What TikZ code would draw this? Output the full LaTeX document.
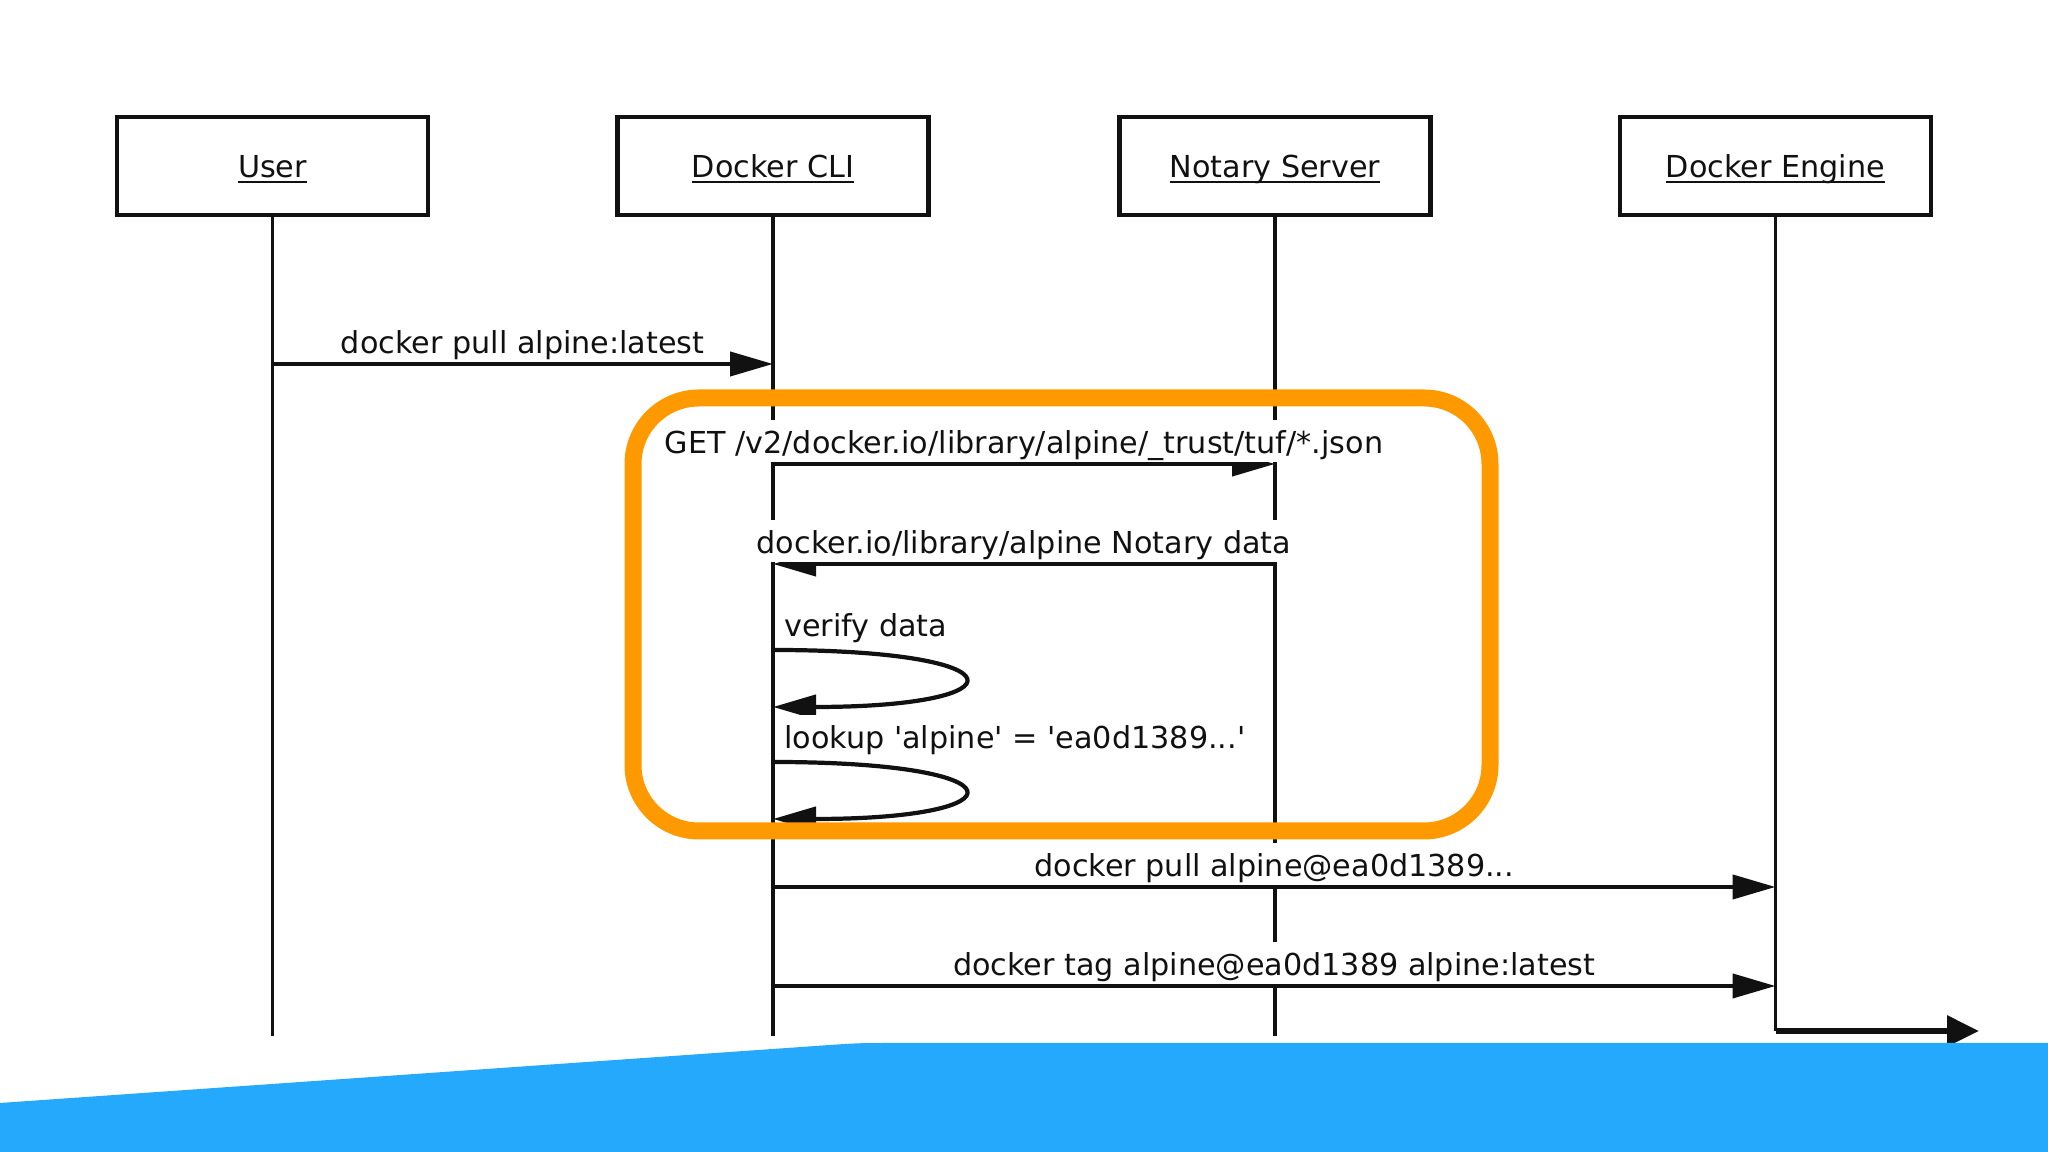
\documentclass[tikz,border=0pt]{standalone}
\usepackage{fontspec}
\setmainfont{DejaVu Sans}
\usetikzlibrary{arrows.meta}
\definecolor{Ink}{HTML}{111111}
\definecolor{Frame}{HTML}{FF9900}
\definecolor{Band}{HTML}{25A9FC}

\begin{document}
\begin{tikzpicture}[
    actor/.style={rectangle, draw=Ink, line width=1.3pt, fill=white, minimum width=3.11cm, minimum height=0.98cm, font=\fontsize{8.6}{10}\selectfont, text=Ink, text height=0.82em, text depth=0.18em},
    life/.style={line width=1pt, draw=Ink},
    msg/.style={-{Triangle[length=4.3mm, width=2.4mm]}, line width=1.2pt, draw=Ink},
    outarrow/.style={-{Triangle[length=3.2mm, width=3mm]}, line width=1.7pt, draw=Ink},
    lbl/.style={font=\fontsize{8.6}{10}\selectfont, text=Ink, fill=white, inner sep=2pt, text height=0.76em, text depth=0.03em}
]
    \useasboundingbox (0,0) rectangle (20.48,11.52);

    % Participants
    \node[actor] (user) at (2.725,9.86) {\underbar{User}};
    \node[actor] (cli) at (7.73,9.86) {\underbar{Docker CLI}};
    \node[actor] (notary) at (12.75,9.86) {\underbar{Notary Server}};
    \node[actor] (engine) at (17.755,9.86) {\underbar{Docker Engine}};

    % Message rows
    \coordinate (r1) at (0,7.88);
    \coordinate (r2) at (0,6.88);
    \coordinate (r3) at (0,5.88);
    \coordinate (r4a) at (0,5.02);
    \coordinate (r4b) at (0,4.45);
    \coordinate (r5a) at (0,3.90);
    \coordinate (r5b) at (0,3.33);
    \coordinate (r6) at (0,2.65);
    \coordinate (r7) at (0,1.66);
    \coordinate (bottom) at (0,1.16);
    \coordinate (outend) at (19.79,1.21);

    % Lifelines
    \draw[life] (user.south) -- (user |- bottom);
    \draw[life] (cli.south) -- (cli |- bottom);
    \draw[life] (notary.south) -- (notary |- bottom);
    \draw[life] (engine.south) -- (engine |- outend);

    % Messages
    \draw[msg] (user |- r1) -- node[lbl, above=0pt]{docker pull alpine:latest} (cli |- r1);
    \draw[msg] (cli |- r2) -- node[lbl, above=0pt]{GET /v2/docker.io/library/alpine/\_trust/tuf/*.json} (notary |- r2);
    \draw[msg] (notary |- r3) -- node[lbl, above=0pt]{docker.io/library/alpine Notary data} (cli |- r3);

    % Self calls on the CLI
    \draw[msg] (cli |- r4a) node[lbl, anchor=south west, xshift=0.02cm, yshift=0.03cm]{verify data}
        .. controls +(2.52,0) and +(2.52,0) .. (cli |- r4b);
    \draw[msg] (cli |- r5a) node[lbl, anchor=south west, xshift=0.02cm, yshift=0.03cm]{lookup \textquotesingle alpine\textquotesingle{} = \textquotesingle ea0d1389...\textquotesingle}
        .. controls +(2.52,0) and +(2.52,0) .. (cli |- r5b);

    % Calls into the engine
    \draw[msg] (cli |- r6) -- node[lbl, above=0pt]{docker pull alpine@ea0d1389...} (engine |- r6);
    \draw[msg] (cli |- r7) -- node[lbl, above=0pt]{docker tag alpine@ea0d1389 alpine:latest} (engine |- r7);
    \draw[outarrow] (engine |- outend) -- (outend);

    % Highlight around the trust lookup
    \draw[Frame, line width=0.17cm, rounded corners=0.66cm] (6.33,3.21) rectangle (14.90,7.54);

    % Slide band
    \fill[Band] (0,0.49) -- (8.3,1.07) .. controls (8.6,1.09) .. (9.0,1.09) -- (20.48,1.09) -- (20.48,0) -- (0,0) -- cycle;
\end{tikzpicture}
\end{document}
